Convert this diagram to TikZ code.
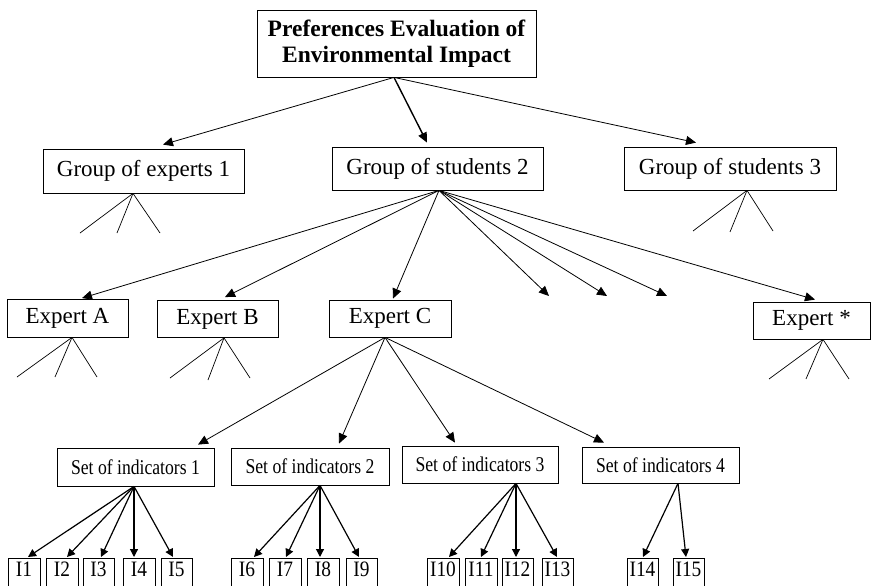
\documentclass[tikz,border=0pt]{standalone}
\usepackage{fontspec}
\usepackage{graphicx}
\setmainfont{Liberation Serif}
\usetikzlibrary{arrows.meta}

\tikzset{
  box/.style={draw, line width=0.8pt, inner sep=0pt, align=center},
  bigtxt/.style={font=\fontsize{23}{26}\selectfont},
  titletxt/.style={font=\fontsize{23.5}{26}\selectfont\bfseries},
  settxt/.style={font=\fontsize{21}{24}\selectfont},
  indtxt/.style={font=\fontsize{22}{24}\selectfont, text height=12pt, text depth=15pt},
  arr/.style={line width=0.8pt, -{Triangle[length=10pt,width=9pt]}},
  thickarr/.style={line width=1.4pt, -{Triangle[length=10pt,width=9pt]}},
  indarr/.style={line width=1.2pt, -{Triangle[length=8pt,width=8pt]}},
  leg/.style={line width=0.7pt},
}
\newcommand{\narrow}[2]{\scalebox{#1}[1]{#2}}

\begin{document}
\begin{tikzpicture}[x=1pt, y=-1pt]
\useasboundingbox (0,0) rectangle (871,586);
\clip (0,0) rectangle (871,586);
\fill[white] (0,0) rectangle (871,586);

% root
\node[box, titletxt, minimum width=279pt, minimum height=67pt] (root) at (396.5,43.5)
  {Preferences Evaluation of\\Environmental Impact};

% groups
\node[box, bigtxt, minimum width=201pt, minimum height=44pt] (ge1) at (143.5,171) {Group of experts 1};
\node[box, bigtxt, minimum width=211pt, minimum height=43pt] (gs2) at (437.5,168.5) {Group of students 2};
\node[box, bigtxt, minimum width=212pt, minimum height=43pt] (gs3) at (730,168.5) {Group of students 3};

% experts
\node[box, bigtxt, minimum width=121pt, minimum height=38pt] (ea) at (67.5,318) {Expert A};
\node[box, bigtxt, minimum width=121pt, minimum height=37pt] (eb) at (217.5,319) {Expert B};
\node[box, bigtxt, minimum width=122pt, minimum height=37pt] (ec) at (390,318.5) {Expert C};
\node[box, bigtxt, minimum width=117pt, minimum height=37pt] (es) at (811.5,320.5) {Expert *};

% sets of indicators
\node[box, settxt, minimum width=157pt, minimum height=38pt] (s1) at (135.5,467) {\narrow{0.84}{Set of indicators 1}};
\node[box, settxt, minimum width=158pt, minimum height=37pt] (s2) at (310,466.5) {\narrow{0.84}{Set of indicators 2}};
\node[box, settxt, minimum width=156pt, minimum height=37pt] (s3) at (480,464.5) {\narrow{0.84}{Set of indicators 3}};
\node[box, settxt, minimum width=157pt, minimum height=36pt] (s4) at (660.5,465) {\narrow{0.84}{Set of indicators 4}};

% indicators
\foreach \n/\x/\w in {1/24/32, 2/62/32, 3/98.5/31, 4/139/32, 5/176.5/31,
                      6/247/32, 7/285/32, 8/323/32, 9/361.5/31,
                      10/443/32, 11/481/32, 12/517.5/31, 13/557.5/31,
                      14/642.5/31, 15/688.5/31}
  \node[box, indtxt, anchor=north, minimum width=\w pt, minimum height=40pt] (i\n) at (\x,558) {\narrow{0.88}{I\n}};

% free ends of the arrows to further experts
\coordinate (d1) at (549,296);
\coordinate (d2) at (607,296);
\coordinate (d3) at (667,296);

% root to groups
\draw[arr] ([xshift=-2.5pt]root.south) -- ([xshift=19.5pt,yshift=4pt]ge1.north);
\draw[thickarr] ([xshift=-2.5pt]root.south) -- ([xshift=-10.5pt,yshift=4pt]gs2.north);
\draw[arr] ([xshift=-2.5pt]root.south) -- ([xshift=-34pt,yshift=4pt]gs3.north);

% group 2 to experts
\draw[arr] ([xshift=1.5pt]gs2.south) -- ([xshift=14.5pt,yshift=0.5pt]ea.north);
\draw[arr] ([xshift=1.5pt]gs2.south) -- ([xshift=7.5pt,yshift=3pt]eb.north);
\draw[arr] ([xshift=1.5pt]gs2.south) -- ([xshift=3pt,yshift=1pt]ec.north);
\draw[arr] ([xshift=1.5pt]gs2.south) -- (d1);
\draw[arr] ([xshift=1.5pt]gs2.south) -- (d2);
\draw[arr] ([xshift=1.5pt]gs2.south) -- (d3);
\draw[arr] ([xshift=1.5pt]gs2.south) -- ([xshift=3.5pt,yshift=2pt]es.north);

% expert C to sets
\draw[arr] ([xshift=-5pt]ec.south) -- ([xshift=62.5pt,yshift=3pt]s1.north);
\draw[arr] ([xshift=-5pt]ec.south) -- ([xshift=29pt,yshift=4pt]s2.north);
\draw[arr] ([xshift=-5pt]ec.south) -- ([xshift=-25pt,yshift=3pt]s3.north);
\draw[arr] ([xshift=-5pt]ec.south) -- ([xshift=-56.5pt,yshift=4pt]s4.north);

% sets to indicators
\foreach \t/\dx in {1/4, 2/5, 3/2.5, 4/-5, 5/-3.5}
  \draw[indarr] ([xshift=-1.5pt]s1.south) -- ([xshift=\dx pt,yshift=1pt]i\t.north);
\foreach \t/\dx in {6/7, 7/1, 8/-3, 9/-2.5}
  \draw[indarr] ([xshift=10pt]s2.south) -- ([xshift=\dx pt,yshift=1pt]i\t.north);
\foreach \t/\dx in {10/6, 11/0, 12/-1.5, 13/-0.5}
  \draw[indarr] ([xshift=36pt]s3.south) -- ([xshift=\dx pt,yshift=1pt]i\t.north);
\foreach \t/\dx in {14/0.5, 15/-2.5}
  \draw[indarr] ([xshift=17.5pt]s4.south) -- ([xshift=\dx pt,yshift=1pt]i\t.north);

% open branches below collapsed nodes
\coordinate (ge1a) at (80,233);  \coordinate (ge1b) at (117,233); \coordinate (ge1c) at (160,233);
\coordinate (gs3a) at (693,231); \coordinate (gs3b) at (730,232); \coordinate (gs3c) at (773,231);
\coordinate (eaa) at (17,377);   \coordinate (eab) at (55,377);   \coordinate (eac) at (97,377);
\coordinate (eba) at (170,378);  \coordinate (ebb) at (208,380);  \coordinate (ebc) at (250,378);
\coordinate (esa) at (769,379);  \coordinate (esb) at (806,379);  \coordinate (esc) at (849,379);

\foreach \e in {ge1a,ge1b,ge1c} \draw[leg] ([xshift=-10.5pt]ge1.south) -- (\e);
\foreach \e in {gs3a,gs3b,gs3c} \draw[leg] ([xshift=17pt]gs3.south) -- (\e);
\foreach \e in {eaa,eab,eac} \draw[leg] ([xshift=4.5pt]ea.south) -- (\e);
\foreach \e in {eba,ebb,ebc} \draw[leg] ([xshift=6.5pt]eb.south) -- (\e);
\foreach \e in {esa,esb,esc} \draw[leg] ([xshift=11.5pt]es.south) -- (\e);
\end{tikzpicture}
\end{document}
